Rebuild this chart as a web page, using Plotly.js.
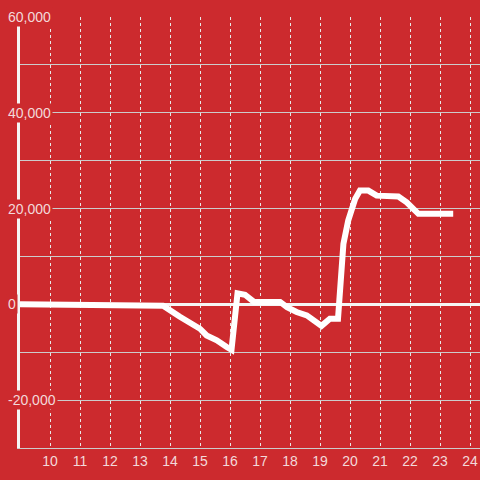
<!DOCTYPE html>
<html>
<head>
<meta charset="utf-8">
<script src="https://cdn.plot.ly/plotly-3.0.1.min.js"></script>
<style>html,body{margin:0;padding:0;background:#cc2a2e;}#chart{width:480px;height:480px;}</style>
</head>
<body>
<div id="chart"></div>
<script>
const xValues = [9, 13, 13.1, 13.77, 14.33, 14.67, 15.0, 15.22, 15.56, 15.89, 16.05, 16.25, 16.5, 16.8, 17.67, 17.9, 18.22, 18.56, 19.05, 19.33, 19.6, 19.78, 19.94, 20.17, 20.33, 20.61, 20.89, 21.61, 21.89, 22.28, 23.44];
const yValues = [0, 0, -300, -300, -2600, -3700, -5100, -6500, -7500, -8900, -9500, 2300, 2000, 500, 500, -600, -1600, -2300, -4500, -3000, -3000, 12600, 17500, 22000, 23750, 23750, 22700, 22500, 21300, 18900, 18900];
const xTickVals = [10, 11, 12, 13, 14, 15, 16, 17, 18, 19, 20, 21, 22, 23, 24];
const yLabelVals = [-20000, 0, 20000, 40000, 60000];
const yLabelText = ['-20,000', '0', '20,000', '40,000', '60,000'];

const bg = '#cc2a2e';
const labelColor = '#f3d9da';

const annotations = yLabelVals.map((v, i) => ({
  xref: 'paper', yref: 'y', x: -14/460, y: v,
  xanchor: 'left', yanchor: 'middle',
  text: yLabelText[i], showarrow: false,
  bgcolor: bg, borderpad: 1,
  font: {family: 'Liberation Sans, Arial, sans-serif', size: 14, color: labelColor}
}));

Plotly.newPlot('chart', [{
  x: xValues, y: yValues, type: 'scatter', mode: 'lines',
  line: {color: '#ffffff', width: 6},
  hoverinfo: 'skip'
}], {
  width: 480, height: 480,
  margin: {l: 20, r: 0, t: 17, b: 32},
  paper_bgcolor: bg, plot_bgcolor: bg,
  showlegend: false,
  font: {family: 'Liberation Sans, Arial, sans-serif', size: 14, color: labelColor},
  xaxis: {
    range: [9, 24.333], tickvals: xTickVals, showgrid: true,
    gridcolor: '#e8e8e8', griddash: 'dot', gridwidth: 1,
    showline: true, linecolor: '#cccccc', linewidth: 1,
    zeroline: false, ticks: '', tickfont: {size: 14, color: labelColor}
  },
  yaxis: {
    range: [-30000, 60000], dtick: 10000, showgrid: true,
    gridcolor: '#cccccc', gridwidth: 1,
    showticklabels: false, ticks: '',
    showline: true, linecolor: '#f5f5f5', linewidth: 3,
    zeroline: true, zerolinecolor: '#f5f5f5', zerolinewidth: 3
  },
  annotations: annotations
}, {staticPlot: true});
</script>
</body>
</html>
